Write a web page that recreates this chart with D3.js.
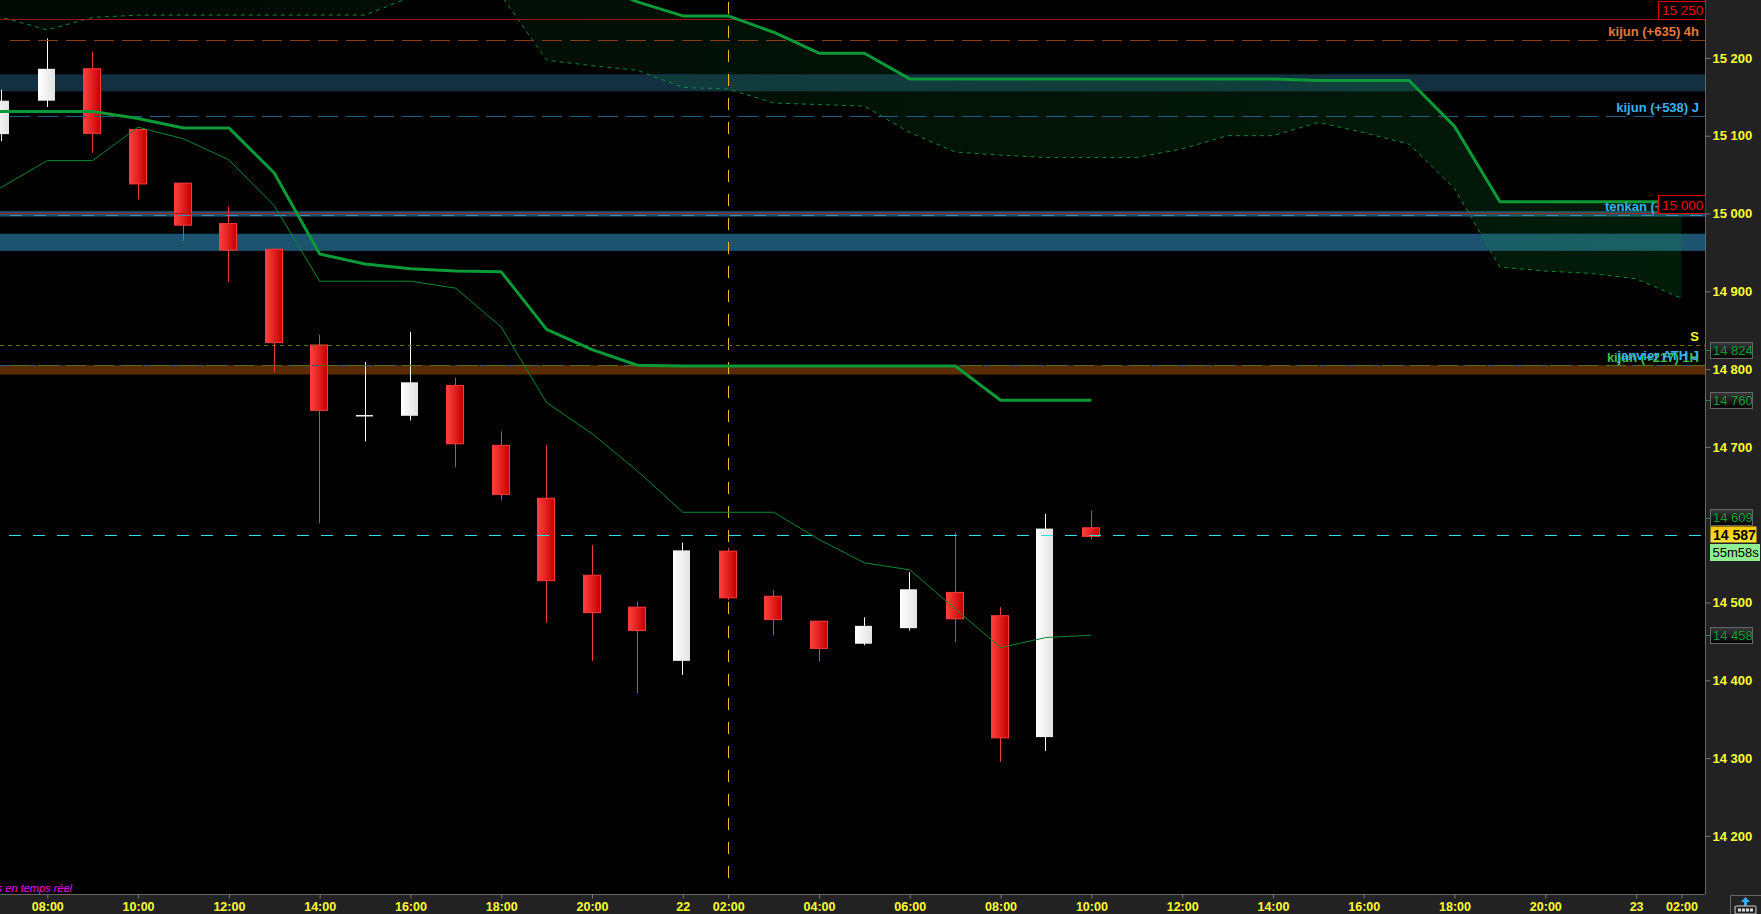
<!DOCTYPE html>
<html><head><meta charset="utf-8">
<script src="https://cdn.jsdelivr.net/npm/d3@7"></script>
<style>html,body{margin:0;padding:0;background:#000;overflow:hidden}svg{display:block}text{font-family:"Liberation Sans",Arial,sans-serif}</style>
</head><body><svg id="c" width="1761" height="914"></svg>
<script>
// Candles: slots 0..24
const opens  = [15102,15145,15186,15108,15039,14987,14954,14831,14741,14740,14779,14702,14634,14535,14494,14425,14566,14508,14476,14447,14467,14513,14483,14327,14596];
const highs  = [15159,15225,15208,15108,15039,15009,14955,14844,14809,14848,14789,14720,14702,14574,14501,14577,14570,14516,14476,14481,14539,14590,14494,14614,14618];
const lows   = [15093,15137,15078,15018,14965,14912,14796,14602,14707,14734,14674,14631,14474,14425,14383,14407,14503,14458,14424,14445,14464,14449,14295,14309,14581];
const closes = [15145,15186,15103,15038,14985,14953,14834,14747,14741,14783,14704,14639,14528,14487,14464,14567,14506,14478,14441,14470,14517,14479,14326,14595,14585];
// Kijun 1h and tenkan 1h, slots -1..24
const kijun1h  = [15131,15131,15131,15131,15122,15110,15110,15052,14948,14935,14929,14926,14925,14851,14825,14805,14804,14804,14804,14804,14804,14804,14804,14760,14760,14760];
const tenkan1h = [15001,15034,15068,15068,15111,15096,15069,15010,14913,14913,14913,14904,14854,14757,14717,14669,14616,14616,14616,14581,14551,14542,14492,14442,14455,14458];
// Ichimoku cloud, slots -1..37
const spanA = [15330,15330,15330,15330,15330,15330,15330,15330,15330,15330,15330,15330,15330,15330,15297,15272,15254,15254,15233,15206,15206,15173,15173,15173,15173,15173,15173,15173,15173,15173,15171,15171,15171,15112,15015,15015,15015,15015,15015];
const spanB = [15258,15252,15236,15252,15255,15255,15255,15255,15255,15255,15278,15320,15280,15197,15190,15184,15162,15160,15142,15140,15138,15104,15079,15075,15072,15072,15072,15083,15100,15100,15117,15104,15089,15032,14931,14926,14923,14916,14891];
// Axes
const priceTicks = [14200,14300,14400,14500,14700,14800,14900,15000,15100,15200];
const timeSlots  = [1,3,5,7,9,11,13,15,16,18,20,22,24,26,28,30,32,34,36,37];
const timeLabels = ["08:00","10:00","12:00","14:00","16:00","18:00","20:00","22","02:00","04:00","06:00","08:00","10:00","12:00","14:00","16:00","18:00","20:00","23","02:00"];
// Price zones [top,bottom]
const zoneTop = [15179,15157], zoneLow = [14974,14952], zoneMid = [15003,14996], zoneBrown = [14805,14793];
// Levels
const lvl = {red1:15250, red2:15000, kijun4h:15222, kijunJ:15125, tenkan:14997, s:14830, ath:14805, kijunH:14804, last:14587};
const greenTags = [14824,14760,14609,14458];

const W=1761,H=914,R=1705,B=894;
const x=d3.scaleLinear().domain([0,37]).range([1.9,1681.5]);
const y=d3.scaleLinear().domain([15000,14200]).range([213.5,835.9]);
const fmt=p=>{const s=String(p);return s.slice(0,2)+" "+s.slice(2)};
const svg=d3.select("#c");
const defs=svg.append("defs");
function grad(id,a,b,vertical){const g=defs.append("linearGradient").attr("id",id).attr("x1",0).attr("y1",0).attr("x2",vertical?0:1).attr("y2",vertical?1:0);g.append("stop").attr("offset",0).attr("stop-color",a);g.append("stop").attr("offset",1).attr("stop-color",b);}
grad("gRed","#ff4040","#c40000");grad("gWhite","#ffffff","#e2e2e2");
grad("gTag","#3a3a3a","#000000",true);grad("gLast","#ffc800","#ffe23c",true);
const cg=defs.append("linearGradient").attr("id","gCloud").attr("gradientUnits","userSpaceOnUse").attr("x1",0).attr("x2",1682).attr("y1",0).attr("y2",0);
cg.append("stop").attr("offset",0).attr("stop-color","#0a7a30").attr("stop-opacity",0.07);
cg.append("stop").attr("offset",1).attr("stop-color","#0a8a30").attr("stop-opacity",0.2);
defs.append("clipPath").attr("id","plot").append("rect").attr("width",R).attr("height",B);

svg.append("rect").attr("width",W).attr("height",H).attr("fill","#222");
svg.append("rect").attr("width",R).attr("height",B).attr("fill","#000");
const p=svg.append("g").attr("clip-path","url(#plot)");

// zones
[[zoneTop,"#12303f"],[zoneLow,"#1c546f"],[zoneMid,"#1c546f"],[zoneBrown,"#5a2c06"]].forEach(([z,c])=>{
  p.append("rect").attr("x",0).attr("width",R).attr("y",y(z[0])).attr("height",y(z[1])-y(z[0])).attr("fill",c);
});
// cloud
const slot=(d,i)=>x(i-1);
p.append("path").attr("fill","url(#gCloud)")
  .attr("d",d3.area().x((d,i)=>x(i-1)).y0((d,i)=>y(spanB[i])).y1(d=>y(d))(spanA));
p.append("path").attr("fill","none").attr("stroke","#0a8a38").attr("stroke-width",1).attr("stroke-dasharray","4 4")
  .attr("d",d3.line().x(slot).y(d=>y(d))(spanB));
// vertical marker
const vx=Math.round(x(16))+.5;
p.append("line").attr("x1",vx).attr("x2",vx).attr("y1",2).attr("y2",884).attr("stroke","#f5b81e").attr("stroke-width",1).attr("stroke-dasharray","12 12");

// candles
const candles=opens.map((o,i)=>({i,o,h:highs[i],l:lows[i],c:closes[i]}));
const cs=p.selectAll("g.c").data(candles).join("g").attr("class","c");
cs.append("line").attr("x1",d=>Math.floor(x(d.i))+.5).attr("x2",d=>Math.floor(x(d.i))+.5)
  .attr("y1",d=>y(d.h)).attr("y2",d=>y(d.l)).attr("stroke",d=>d.c>=d.o?"#fff":"#f03a3a");
cs.append("rect").attr("x",d=>Math.floor(x(d.i))-(d.c>=d.o?9:8.5)).attr("width",17)
  .attr("y",d=>y(Math.max(d.o,d.c))).attr("height",d=>Math.max(1.5,Math.abs(y(d.o)-y(d.c))))
  .attr("fill",d=>d.c>=d.o?"url(#gWhite)":"url(#gRed)")
  .attr("stroke",d=>d.c>=d.o?"none":"#ff3a3a").attr("stroke-width",1);

// horizontal levels
function hline(v,c,dash,x0=0,off=-.5){const yy=Math.round(y(v)+off)+.5;const l=p.append("line").attr("x1",x0).attr("x2",R).attr("y1",yy).attr("y2",yy).attr("stroke",c);if(dash)l.attr("stroke-dasharray",dash);}
hline(lvl.red1,"#a01414");
hline(lvl.red2,"#a81c1c");
hline(lvl.kijun4h,"#8a3c16","20 8",10);
hline(lvl.kijunJ,"#1d5f85","20 8",10);
hline(lvl.tenkan,"#3f8fb5","12 12",10);
hline(lvl.s,"#6e6e14","4 4");
hline(lvl.ath,"#1d5f85","12 12");
hline(lvl.kijunH,"#4f6e16","20 8",10);
hline(lvl.last,"#30e0e0","12 12",9,0);

// lines
p.append("path").attr("fill","none").attr("stroke","#0a9a38").attr("stroke-width",3).attr("stroke-linejoin","bevel")
  .attr("d",d3.line().x(slot).y(d=>y(d))(spanA));
p.append("path").attr("fill","none").attr("stroke","#0a9a38").attr("stroke-width",3).attr("stroke-linejoin","bevel")
  .attr("d",d3.line().x(slot).y(d=>y(d))(kijun1h));
p.append("path").attr("fill","none").attr("stroke","#0a8a30").attr("stroke-width",1)
  .attr("d",d3.line().x(slot).y(d=>y(d))(tenkan1h));

// level labels
function lab(t,xx,yy,c,anchor="end"){svg.append("text").attr("x",xx).attr("y",yy).attr("fill",c).attr("text-anchor",anchor).attr("font-size",13).attr("font-weight","bold").text(t);}
lab("kijun (+635) 4h",1699,36,"#e8783c");
lab("kijun (+538) J",1699,112,"#3ab0f0");
lab("tenkan (+410) J",1605,211,"#3ab0f0","start");
lab("S",1699,341,"#ffff20");
lab("kijun (+217) 1H",1699,362,"#3fc24a");
lab("janvier ATH J",1699,360,"#3ab0f0");
svg.append("text").attr("x",72).attr("y",892).attr("text-anchor","end").attr("fill","#f000f0").attr("font-size",11).attr("font-style","italic").text("s en temps réel");

// axes
const ax=svg.append("g").attr("transform",`translate(${R+.5},0)`).call(d3.axisRight(y).tickValues(priceTicks).tickFormat(fmt).tickSize(5).tickPadding(2));
ax.select(".domain").attr("d",`M0,0V${B}`).attr("stroke","#666");
ax.selectAll("line").attr("stroke","#777");
ax.selectAll("text").attr("fill","#ffff30").attr("font-size",13).attr("font-weight","bold").attr("font-family",'"Liberation Sans",Arial,sans-serif');
const bx=svg.append("g").attr("transform",`translate(0,${B+.5})`).call(d3.axisBottom(x).tickValues(timeSlots).tickFormat(d=>timeLabels[timeSlots.indexOf(d)]).tickSize(4).tickPadding(4));
bx.select(".domain").attr("d",`M0,0H${R}`).attr("stroke","#666");
bx.selectAll("line").attr("stroke","#777");
bx.selectAll("text").attr("fill","#ffff30").attr("font-size",12.5).attr("font-weight","bold").attr("font-family",'"Liberation Sans",Arial,sans-serif');

// price tags
function tag(v,t,fill,stroke,col,x0,x1,h,opts={}){const yy=y(v);
  svg.append("rect").attr("x",x0+.5).attr("y",Math.round(yy-h/2)+.5).attr("width",x1-x0-1).attr("height",h-1).attr("fill",fill).attr("stroke",stroke);
  svg.append("text").attr("x",opts.tx||x0+3).attr("y",yy+(opts.dy||4.5)).attr("fill",col).attr("font-size",opts.s||13).attr("font-weight",opts.w||"normal").text(t);}
greenTags.forEach(v=>{
  svg.append("line").attr("x1",R+1).attr("x2",1710).attr("y1",Math.round(y(v))+.5).attr("y2",Math.round(y(v))+.5).attr("stroke","#0a8a30");
  tag(v,fmt(v),"url(#gTag)","#666","#0a9a36",1710,1753,17);
});
tag(14587,fmt(14587),"url(#gLast)","none","#000",1710,1757,17,{w:"bold",s:14,dy:5});
svg.append("rect").attr("x",1710).attr("y",544).attr("width",50).attr("height",17).attr("fill","#90ee90");
svg.append("text").attr("x",1712.5).attr("y",557).attr("fill","#000").attr("font-size",13).text("55m58s");
[[lvl.red1,fmt(15250)],[lvl.red2,fmt(15000)]].forEach(([v,t])=>{
  svg.append("rect").attr("x",1658.5).attr("y",Math.round(y(v)-.5)-18+.5).attr("width",47).attr("height",18).attr("fill","#000").attr("stroke","#e00000");
  svg.append("text").attr("x",1662).attr("y",Math.round(y(v))-4).attr("fill","#ff0000").attr("font-size",13.5).text(t);
});

// corner widget
const ic=svg.append("g");
ic.append("path").attr("d","M1730.5,914V895.5H1761").attr("fill","none").attr("stroke","#666");
ic.append("path").attr("d","M1745.5,897l-4.5,5h3v5h3v-5h3z").attr("fill","#30b0ff");
ic.append("rect").attr("x",1735).attr("y",906).attr("width",21).attr("height",8).attr("rx",2).attr("fill","#222").attr("stroke","#999").attr("stroke-width",1.5);
d3.range(4).forEach(i=>ic.append("rect").attr("x",1738+i*4).attr("y",908.5).attr("width",3).attr("height",3).attr("fill","#ddd"));
</script></body></html>
